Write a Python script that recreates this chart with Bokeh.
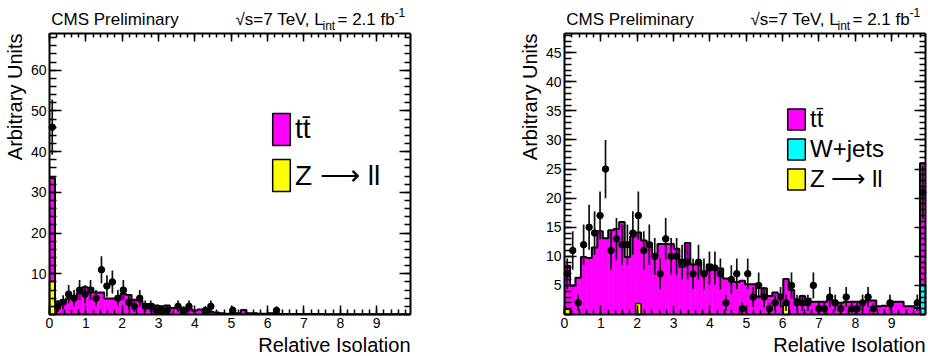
import numpy as np
from bokeh.plotting import figure
from bokeh.layouts import row
from bokeh.models import (FixedTicker, LinearAxis, Range1d, Label, Legend,
                          LegendItem, ColumnDataSource)
from bokeh.embed import file_html
from bokeh.resources import INLINE

# ---------------- data ----------------
X_MAX = 9.93          # upper edge of the last (overflow) bin
N_BINS = 66

x_tick_labels = [0, 1, 2, 3, 4, 5, 6, 7, 8, 9]
left_y_ticks = [10, 20, 30, 40, 50, 60]
right_y_ticks = [5, 10, 15, 20, 25, 30, 35, 40, 45]

# Left panel: stacked MC total (ttbar + Z->ll), per bin
left_total = [33.5, 3.2, 3.5, 4.0, 4.3, 5.3, 6.7, 6.5, 5.4, 5.4,
              3.9, 3.9, 3.9, 5.1, 4.8, 3.6, 3.4, 2.6, 2.6, 2.2,
              2.0, 2.2, 1.6, 1.6, 1.2, 1.5, 1.0, 1.2, 0.7, 0.7,
              0.5, 0.3, 0.2, 0.4, 0.3, 1.1, 0.3, 0.3, 0.2, 0.2,
              0.3, 0.3, 0.1, 0.1, 0.1, 0.1, 0.1, 0.1, 0.1, 0.1,
              0.05, 0.05, 0.05, 0.05, 0.05, 0.05, 0.05, 0.05, 0.05, 0.05,
              0.05, 0.05, 0.05, 0.05, 0.05, 0.05]
left_zll = {0: 8.1}
left_wjets = {}
left_data = [46, 2, 3, 5, 4, 6, 5, 6, 4, 11,
             7, 8, 4, 6, 3, 2, 4, 2, 2, 1,
             1, 1, None, 2, 1, 2, None, None, 1, 2,
             None, None, None, 1, None, None, None, None, None, None,
             None, 1, None, None, None, None, None, None, None, None,
             None, None, None, None, None, None, None, None, None, None,
             None, None, None, None, None, None]

# Right panel: stacked MC total (ttbar + W+jets + Z->ll), per bin
right_total = [8.4, 5.0, 6.3, 9.9, 9.7, 11.5, 14.3, 13.1, 14.5, 14.7,
               15.9, 9.9, 13.4, 14.1, 12.7, 12.3, 10.0, 12.1, 12.1, 12.1,
               11.3, 8.2, 12.3, 8.6, 9.0, 7.1, 8.6, 7.9, 7.9, 6.2,
               6.0, 5.6, 5.8, 5.2, 5.2, 3.1, 4.5, 3.2, 3.8, 3.3,
               6.1, 4.2, 2.6, 3.2, 2.7, 2.2, 2.2, 2.2, 2.6, 1.7,
               2.0, 2.2, 2.2, 2.2, 2.0, 2.4, 2.4, 1.4, 1.5, 1.5,
               2.2, 2.2, 1.4, 1.4, 1.1, 26.0]
right_zll = {0: 0.9, 13: 1.9, 40: 1.9}
right_wjets = {65: 5.1}
right_data = [7, 11, 2, 12, 15, 14, 17, 25, 11, 13,
              12, 12, 14, 17, 11, 12, 10, 7, 13, 10,
              10, 9, 9, 7, 9, 7, 8, 8, 7, 2,
              6, 7, 1, 7, 3, 5, 3, 1, 2, 3,
              2, 5, 2, 2, 2, 5, 1, 1, 3, 2,
              1, 3, 1, 1, 2, 3, 1, None, None, 2,
              None, None, None, None, 2, 21]

FONT = "Liberation Sans"
MAGENTA, CYAN, YELLOW = "#ff00ff", "#00ffff", "#ffff00"

# pixel geometry of the ROOT-style frame inside each canvas
H = 356
PX_L, PX_R, PX_T, PX_B = 49, 410, 33, 314

edges = np.linspace(0.0, X_MAX, N_BINS + 1)
centers = 0.5 * (edges[:-1] + edges[1:])


def sparse(d):
    a = np.zeros(N_BINS)
    for k, v in d.items():
        a[k] = v
    return a


def style_axis(ax, major, minor, show_labels=True):
    ax.major_tick_in = major
    ax.major_tick_out = 0
    ax.minor_tick_in = minor
    ax.minor_tick_out = 0
    ax.axis_line_width = 2
    ax.axis_line_color = "black"
    ax.major_tick_line_width = 1.5
    ax.minor_tick_line_width = 1.5
    ax.major_tick_line_color = "black"
    ax.minor_tick_line_color = "black"
    ax.major_label_text_font = FONT
    ax.major_label_text_font_size = "14px"
    ax.major_label_standoff = 3
    ax.major_label_text_color = "black" if show_labels else None


def make_panel(width, ymax, yticks, yminor_step, total, zll, wjets,
               data, legend_entries, legend_loc, legend_font, glyph_h, spacing):
    sx = (PX_R - PX_L) / X_MAX
    sy = (PX_B - PX_T) / ymax
    xr = Range1d(-PX_L / sx, X_MAX + (width - PX_R) / sx)
    yr = Range1d(-(H - PX_B) / sy, ymax + PX_T / sy)
    p = figure(width=width, height=H, x_range=xr, y_range=yr,
               output_backend="svg", toolbar_location=None,
               x_axis_location=None, y_axis_location=None,
               min_border=0)
    p.grid.visible = False
    p.outline_line_color = None
    p.background_fill_color = "white"
    p.border_fill_color = "white"

    xticker = FixedTicker(ticks=x_tick_labels,
                          minor_ticks=list(np.round(np.arange(0, X_MAX, 0.2), 2)))
    yticker = FixedTicker(ticks=yticks,
                          minor_ticks=list(np.arange(0, ymax, yminor_step)))

    for loc, tk, maj, mnr, lab, fix, bnd in (
            ("below", xticker, 9, 5, True, 0, (0, X_MAX)),
            ("above", xticker, 8, 4, False, ymax, (0, X_MAX)),
            ("left", yticker, 12, 7, True, 0, (0, ymax)),
            ("right", yticker, 11, 6, False, X_MAX, (0, ymax))):
        ax = LinearAxis(ticker=tk, fixed_location=fix, bounds=bnd)
        style_axis(ax, maj, mnr, lab)
        p.add_layout(ax, loc)

    tot = np.array(total, dtype=float)
    z = sparse(zll)
    w = sparse(wjets)
    src = ColumnDataSource(dict(left=edges[:-1], right=edges[1:],
                                z=z, zw=z + w, tot=tot))
    p.quad(left="left", right="right", bottom="zw", top="tot", source=src,
           fill_color=MAGENTA, line_color=MAGENTA, line_width=0.6)
    for arr, base, col in ((z, np.zeros(N_BINS), YELLOW), (w, z, CYAN)):
        m = arr > 0
        if m.any():
            p.quad(left=edges[:-1][m], right=edges[1:][m], bottom=base[m],
                   top=(base + arr)[m], fill_color=col, line_color="black",
                   line_width=1.5)
    p.step(x=edges, y=np.append(tot, tot[-1]), mode="after",
           line_color="black", line_width=2)

    d = np.array([np.nan if v is None else v for v in data], dtype=float)
    ok = ~np.isnan(d)
    err = np.sqrt(d[ok])
    p.segment(x0=centers[ok], x1=centers[ok], y0=np.clip(d[ok] - err, 0, None),
              y1=d[ok] + err, line_color="#111111", line_width=1.7)
    p.scatter(centers[ok], d[ok], size=6.5, fill_color="black", line_color="black")

    # legend (proxy renderers with one undrawable row)
    items = []
    for lab, col in legend_entries:
        r = p.quad(left=[np.nan], right=[np.nan], top=[np.nan], bottom=[np.nan],
                   fill_color=col, line_color="black", line_width=1.5)
        items.append(LegendItem(label=lab, renderers=[r]))
    leg = Legend(items=items, location=legend_loc, glyph_width=22,
                 glyph_height=glyph_h, label_height=glyph_h, spacing=spacing,
                 label_standoff=3, padding=0, margin=0,
                 label_text_font=FONT, label_text_font_size=legend_font,
                 label_text_color="black", border_line_color=None,
                 background_fill_alpha=0)
    p.add_layout(leg)

    # texts around the frame (screen px from the canvas bottom-left)
    def lab(text, x, y, size, align="left", angle=0.0):
        p.add_layout(Label(x=x, y=y, x_units="screen", y_units="screen",
                           text=text, text_font=FONT, text_font_size=size,
                           text_color="black", text_align=align,
                           text_baseline="alphabetic", angle=angle))

    lab("CMS Preliminary", 50.7, H - 18.5, "17px")
    lab("\u221as=7 TeV, L", 235, H - 18.5, "17px")
    lab("int", 322, H - 25, "12px")
    lab("= 2.1 fb", 337, H - 18.5, "17px")
    lab("-1", 394, H - 12, "12px")
    lab("Arbitrary Units", 14, H - PX_T, "20px", align="right", angle=np.pi / 2)
    lab("Relative Isolation", PX_R, H - 344, "20px", align="right")
    return p


p1 = make_panel(515, 69.0, left_y_ticks, 2, left_total, left_zll, left_wjets,
                left_data, [("tt\u0304", MAGENTA), ("Z \u27f6 ll", YELLOW)],
                (270, 161), "28px", 40, 6)
p2 = make_panel(413, 48.3, right_y_ticks, 1, right_total, right_zll, right_wjets,
                right_data, [("tt\u0304", MAGENTA), ("W+jets", CYAN),
                             ("Z \u27f6 ll", YELLOW)],
                (270, 163), "24px", 26, 2)

layout = row(p1, p2, spacing=0)
open("out.html", "w").write(file_html(layout, INLINE))
